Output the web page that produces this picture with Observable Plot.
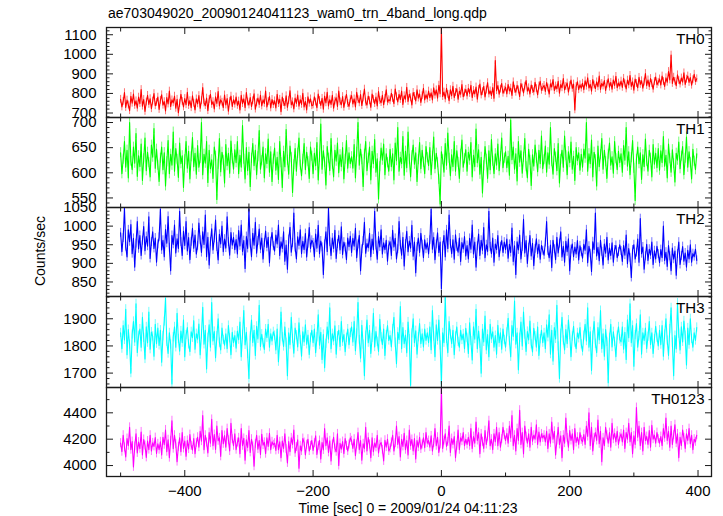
<!DOCTYPE html>
<html><head><meta charset="utf-8">
<script src="https://cdn.jsdelivr.net/npm/d3@7"></script>
<script src="https://cdn.jsdelivr.net/npm/@observablehq/plot@0.6"></script>
<style>
body{margin:0;background:#fff;}
#chart{position:relative;width:723px;height:516px;font-family:"Liberation Sans",Arial,Helvetica,sans-serif;color:#000;overflow:hidden;}
#chart svg{position:absolute;left:0;overflow:visible;}
.title{position:absolute;left:108px;top:5px;font-size:14px;line-height:16px;white-space:nowrap;}
.ylab{position:absolute;left:40px;top:251px;font-size:14px;line-height:16px;transform:translate(-50%,-50%) rotate(-90deg);white-space:nowrap;}
.xlab{position:absolute;left:408px;top:501px;font-size:14px;line-height:14px;transform:translateX(-50%);white-space:nowrap;}
</style></head><body><div id="chart"></div>
<script>
// Light curve, 2-s samples starting at t = -500 s
const tStart = -500, tStep = 2;
const bandNames = ["TH0", "TH1", "TH2", "TH3", "TH0123"];
const bandColors = ["#ff0000", "#00ff00", "#0000ff", "#00ffff", "#ff00ff"];
const bandErrors = [20, 10, 12, 17, 34];

const th0 = [
770,731,759,804,728,766,741,712,785,750,797,739,762,725,781,748,820,735,769,708,756,790,744,773,722,761,799,737,754,781,
718,765,793,740,758,711,779,746,812,733,767,752,786,724,770,701,748,795,759,731,774,742,806,738,763,727,788,750,716,772,
747,789,724,763,830,751,738,776,712,769,795,744,758,721,783,749,810,736,767,755,728,792,741,774,709,760,786,733,768,745,
782,739,761,715,790,748,772,727,805,756,741,779,733,763,798,720,752,776,744,791,736,767,749,812,731,758,784,726,769,743,
762,726,795,748,770,707,781,753,738,788,729,764,814,742,757,721,776,749,792,735,768,744,801,731,759,716,783,750,772,737,
741,783,756,727,797,764,739,775,719,786,752,806,736,768,744,790,725,761,778,733,812,757,742,784,729,766,795,748,734,771,
789,746,772,731,806,768,752,794,738,777,822,755,741,786,763,729,797,770,748,781,736,810,764,753,790,742,775,818,757,768,
762,801,774,748,823,783,757,795,769,812,744,788,771,831,759,796,778,741,805,785,762,819,776,797,754,788,826,767,793,772,
812,779,803,767,829,791,818,776,842,798,1135,784,807,772,826,795,763,819,788,837,779,805,824,770,811,796,845,783,802,821,
787,826,800,842,779,815,798,833,771,821,848,792,809,836,782,818,855,797,813,789,830,775,968,814,840,796,822,851,801,817,
832,798,846,813,827,790,859,821,806,841,818,784,850,828,803,837,866,812,829,797,843,820,808,857,825,793,838,862,816,830,
841,810,856,828,797,849,833,871,815,838,824,862,801,845,829,876,818,836,853,807,840,868,826,848,716,835,860,819,844,827,
852,819,864,837,880,828,846,812,871,843,825,859,834,889,821,851,838,866,815,847,875,832,856,822,869,841,887,829,853,838,
863,831,877,849,823,868,844,892,836,859,817,873,851,829,882,846,865,827,858,902,840,869,835,876,850,822,861,884,845,857,
874,843,889,861,836,880,857,912,869,996,851,883,862,840,895,866,848,879,858,905,846,873,889,856,881,842,870,898,861,875];

const th1 = [
640,598,627,662,611,645,590,700,623,606,651,619,678,593,634,612,657,585,628,669,604,641,620,592,655,631,688,609,647,615,
583,629,651,606,640,574,622,664,598,637,615,681,603,648,627,591,659,618,634,571,626,662,609,643,588,632,670,612,639,597,
654,611,628,700,596,637,619,662,581,645,608,626,589,651,633,547,617,668,602,641,625,580,656,614,639,599,663,628,607,646,
620,662,598,635,611,694,627,588,650,604,641,573,629,658,614,645,596,632,684,607,624,651,590,638,618,667,601,642,583,627,
649,605,631,587,662,620,571,643,612,686,625,597,653,630,561,616,648,603,639,669,615,594,627,658,606,641,622,589,651,633,
598,639,614,660,586,631,697,607,644,621,576,652,629,604,668,617,592,645,623,659,600,636,612,650,588,627,664,609,640,618,
632,609,656,590,641,700,615,647,626,573,637,662,604,629,651,586,643,618,666,601,628,548,612,649,625,657,596,638,620,603,
647,612,638,586,659,624,690,603,631,618,672,595,643,610,681,627,592,634,655,617,640,583,626,660,608,645,621,598,652,630,
614,650,596,633,671,608,639,620,587,538,642,626,601,658,615,679,629,594,636,612,662,603,644,621,589,637,665,611,628,646,
603,641,625,660,592,635,612,687,620,646,597,631,560,614,652,627,589,644,606,666,623,598,638,615,657,604,632,669,610,629,
642,610,633,595,705,626,651,607,638,584,662,621,644,599,631,668,612,590,647,625,575,636,613,655,629,602,645,618,673,608,
626,653,601,640,617,690,622,597,648,631,604,658,580,627,645,611,673,634,596,642,620,661,607,633,585,650,624,640,605,637,
611,647,629,700,603,638,618,665,592,641,626,574,653,612,636,668,607,645,622,589,637,659,615,632,599,662,628,606,643,620,
638,601,654,625,690,613,642,596,630,664,609,545,627,651,618,640,587,636,612,667,623,603,645,629,592,656,617,639,610,648,
605,644,620,672,613,635,590,657,628,601,646,618,582,639,625,661,608,633,652,596,629,671,611,642,620,588,647,623,606,638];

const th2 = [
982,931,968,1048,945,917,990,958,1004,926,967,890,953,1012,939,975,921,961,999,934,972,946,1025,913,957,985,940,968,903,951,
970,1045,936,962,918,991,954,1026,942,880,975,951,1003,928,966,940,1040,957,921,986,948,1012,933,969,910,958,994,941,976,925,
947,1008,962,929,985,951,1030,918,970,896,958,993,936,967,1016,944,909,978,952,1000,931,965,941,1025,957,922,983,949,970,937,
964,925,988,947,1003,932,961,886,972,940,1045,953,918,981,949,1010,927,960,992,938,968,912,955,987,943,970,902,958,983,946,
933,976,952,1003,921,958,940,985,906,949,884,964,997,930,955,1035,942,912,971,948,990,926,959,937,980,917,953,996,940,962,
955,918,979,941,1002,926,960,943,870,951,985,932,1048,957,921,968,940,989,913,952,975,936,998,924,957,943,910,968,945,973,
929,967,946,994,915,951,975,880,938,960,1010,927,953,942,981,918,965,936,1040,948,911,972,944,990,925,955,937,962,906,948,
958,921,989,944,967,912,938,1012,949,922,970,893,952,986,931,960,941,1002,919,957,875,944,968,929,981,950,915,963,938,955,
925,962,1045,938,970,910,951,982,929,957,832,946,975,918,990,940,1030,952,926,963,911,977,944,930,968,905,956,939,972,920,
948,912,967,938,1003,925,957,890,946,979,921,962,935,996,915,950,932,1040,944,926,968,903,952,937,975,918,945,961,929,957,
937,965,914,951,929,995,905,947,870,958,936,976,912,944,1018,928,961,900,942,975,920,954,894,939,966,926,951,911,948,934,
922,956,1012,933,915,949,889,962,938,910,970,928,953,985,917,946,903,959,931,966,880,937,952,918,944,925,961,909,947,930,
914,951,935,990,902,946,926,878,958,937,1035,920,943,907,962,931,896,952,927,970,909,941,921,955,903,936,948,915,930,950,
933,905,948,922,976,899,940,915,862,936,950,912,929,965,903,1020,926,944,884,919,951,908,938,922,957,897,934,912,946,925,
902,937,915,1000,908,930,892,948,919,880,941,911,933,868,925,957,897,920,945,906,928,890,935,912,950,903,926,918,938,908];

const th3 = [
1848,1790,1875,1822,1935,1768,1860,1805,1700,1842,1890,1815,1955,1776,1838,1862,1795,1905,1830,1752,1870,1812,1925,1788,1851,1835,1762,1880,1808,1866,
1802,1858,1740,1836,1890,1975,1815,1772,1848,1805,1660,1832,1870,1795,1920,1826,1781,1855,1812,1895,1760,1840,1868,1806,1779,1852,1830,1893,1788,1845,
1825,1881,1768,1842,1942,1806,1858,1715,1830,1878,1795,1960,1818,1853,1757,1836,1900,1812,1785,1866,1822,1803,1845,1790,1875,1828,1768,1850,1812,1838,
1792,1855,1823,1888,1760,1841,1930,1804,1850,1770,1680,1835,1895,1813,1858,1765,1872,1826,1950,1798,1843,1810,1787,1862,1830,1880,1795,1845,1818,1852,
1838,1785,1862,1742,1815,1925,1832,1798,1870,1812,1690,1848,1805,1905,1826,1773,1866,1840,1796,1885,1822,1762,1852,1815,1878,1806,1840,1769,1830,1858,
1812,1862,1775,1832,1915,1803,1850,1750,1842,1720,1808,1870,1825,1940,1790,1845,1818,1874,1770,1836,1858,1798,1890,1815,1842,1779,1830,1862,1805,1848,
1870,1815,1890,1782,1846,1960,1822,1755,1876,1805,1690,1838,1895,1812,1858,1772,1830,1920,1796,1853,1815,1780,1898,1832,1805,1862,1765,1840,1875,1820,
1838,1796,1862,1905,1812,1735,1850,1823,1945,1790,1868,1808,1840,1775,1888,1825,1655,1846,1900,1812,1856,1770,1832,1882,1808,1845,1796,1862,1820,1848,
1812,1870,1786,1930,1835,1760,1878,1820,1895,1802,1660,1848,1812,1980,1826,1775,1890,1842,1808,1858,1768,1835,1870,1815,1795,1858,1822,1844,1790,1865,
1830,1772,1885,1818,1748,1870,1825,1935,1790,1855,1808,1700,1862,1815,1910,1785,1842,1760,1880,1826,1852,1795,1838,1770,1876,1812,1848,1788,1862,1822,
1795,1850,1902,1818,1760,1875,1835,1965,1806,1848,1712,1830,1888,1800,1925,1842,1780,1853,1822,1892,1806,1778,1865,1836,1795,1870,1765,1825,1858,1812,
1848,1790,1878,1832,1915,1770,1858,1745,1868,1826,1950,1798,1680,1845,1905,1820,1785,1860,1808,1895,1840,1760,1835,1872,1812,1790,1848,1828,1868,1806,
1780,1838,1880,1818,1940,1795,1852,1710,1838,1890,1808,1775,1868,1822,1930,1790,1845,1762,1860,1815,1665,1830,1880,1796,1852,1815,1760,1838,1870,1824,
1815,1870,1788,1850,1750,1896,1830,1955,1812,1875,1725,1840,1882,1795,1836,1915,1770,1848,1820,1866,1790,1834,1890,1805,1848,1772,1825,1872,1830,1800,
1858,1805,1875,1762,1842,1900,1820,1765,1862,1940,1812,1690,1838,1790,1958,1845,1785,1870,1815,1892,1838,1730,1866,1805,1900,1826,1795,1848,1820,1868];

const th0123 = [
4170,4105,4230,4138,4065,4205,4150,4290,4120,4182,3990,4145,4240,4096,4178,4128,4255,4080,4198,4152,4062,4186,4121,4230,4110,4172,4145,4212,4092,4165,
4120,4180,4080,4215,4158,4270,4105,4196,4060,4188,4340,4128,4230,4162,4030,4142,4210,4105,4250,4130,4186,4070,4190,4125,4235,4150,4118,4205,4090,4172,
4215,4140,4260,4185,4380,4120,4230,4175,4095,4250,4170,4350,4150,4235,4122,4300,4188,4210,4070,4265,4165,4228,4140,4280,4192,4110,4320,4200,4150,4240,
4120,4175,4210,4090,4280,4150,4206,4040,4195,4138,4265,4100,4200,4145,3995,4165,4230,4125,4190,4085,4238,4155,4176,4090,4210,4145,4245,4120,4180,4158,
4170,4115,4230,4120,4180,4060,4185,4130,4240,4125,4020,4182,4105,4210,4160,4270,4096,4140,4195,3980,4150,4110,4205,4175,4080,4158,4200,4110,4150,4190,
4115,4170,4225,4085,4150,4190,4050,4175,4118,4280,4150,4210,4100,4188,4035,4160,4215,4130,4105,4240,4000,4168,4125,4182,4090,4205,4150,4110,4160,4210,
4188,4130,4200,4075,4160,4250,4120,4190,4040,4165,4130,4290,4110,4212,4160,4060,4210,4105,4170,4138,4230,4095,4158,4175,4120,4035,4192,4140,4200,4110,
4130,4175,4230,4110,4170,4300,4160,4220,4065,4200,4145,4245,4120,4190,4080,4270,4150,4198,4110,4205,4050,4190,4140,4215,4125,4160,4210,4135,4250,4170,
4190,4140,4225,4110,4170,4280,4150,4215,4100,4160,4590,4130,4190,4240,4145,4180,4300,4100,4205,4160,4220,4060,4150,4270,4120,4210,4185,4250,4150,4200,
4160,4215,4150,4280,4130,4220,4170,4330,4190,4250,4090,4240,4180,4130,4265,4160,4220,4340,4150,4200,4120,4240,4180,4290,4150,4250,4140,4200,4290,4230,
4190,4245,4170,4300,4210,4380,4150,4230,4110,4280,4190,4420,4160,4250,4090,4300,4220,4170,4240,4140,4290,4185,4230,4200,4310,4160,4255,4180,4240,4210,
4230,4180,4260,4130,4240,4170,4330,4200,4260,4080,4190,4290,4160,4225,4060,4230,4170,4360,4210,4140,4265,4190,4240,4120,4280,4175,4215,4160,4250,4195,
4180,4235,4160,4300,4220,4400,4150,4290,4110,4210,4250,4190,4345,4165,4260,4030,4210,4150,4290,4230,4170,4250,4140,4320,4200,4245,4180,4260,4160,4215,
4240,4180,4270,4130,4250,4200,4320,4180,4250,4090,4225,4160,4440,4215,4300,4150,4250,4110,4290,4190,4220,4160,4265,4140,4305,4200,4230,4170,4250,4200,
4170,4220,4150,4280,4210,4360,4190,4260,4140,4300,4160,4230,4310,4170,4240,4060,4215,4150,4270,4210,4130,4240,4190,4280,4165,4230,4120,4200,4180,4230];

const bandValues = [th0, th1, th2, th3, th0123];

// Axis ticks
const xMajorTicks = [-400, -200, 0, 200, 400];
const xMinorTicks = [-500, -300, -100, 100, 300];
const yMajorTicks = [
  [700, 800, 900, 1000, 1100],
  [550, 600, 650, 700],
  [850, 900, 950, 1000, 1050],
  [1700, 1800, 1900],
  [4000, 4200, 4400]
];
const yMinorSteps = [20, 10, 10, 20, 100];
const yDomains = [[677, 1137], [531, 710], [811, 1050], [1647, 1982], [3917, 4592]];
const xDomain = [-522, 421];

const titleText = "ae703049020_20090124041123_wam0_trn_4band_long.qdp";
const yTitle = "Counts/sec";
const xTitle = "Time [sec] 0 = 2009/01/24 04:11:23";

// layout
const frameTops = [27, 117, 207, 296, 387];
const frameBottom = 476;

const chart = document.getElementById("chart");
const frameColor = "#1a1a1a";

bandNames.forEach((name, i) => {
  const data = bandValues[i].map((v, k) => ({t: tStart + k * tStep, v}));
  const err = bandErrors[i];
  const color = bandColors[i];
  const [d0, d1] = yDomains[i];
  const step = yMinorSteps[i];
  const minors = d3.range(Math.ceil(d0 / step) * step, d1, step).filter(v => !yMajorTicks[i].includes(v));
  const top = frameTops[i];
  const bottom = i < 4 ? frameTops[i + 1] : frameBottom;
  const mt = 12, mb = i === 4 ? 40 : 12;
  const last = i === 4;
  const blank = () => "";
  const svg = Plot.plot({
    width: 723,
    height: bottom - top + mt + mb,
    marginLeft: 106, marginRight: 12, marginTop: mt, marginBottom: mb,
    x: {domain: xDomain},
    y: {domain: yDomains[i]},
    style: {background: "transparent", overflow: "visible", fontFamily: "'Liberation Sans', Arial, sans-serif", fontSize: "14px", color: frameColor},
    marks: [
      Plot.ruleX(data, {x: "t", y1: d => d.v - err, y2: d => d.v + err, stroke: color, strokeOpacity: 0.55, strokeWidth: 1, clip: true}),
      Plot.line(data, {x: "t", y: "v", stroke: color, strokeWidth: 1.1, clip: true}),
      Plot.frame({stroke: frameColor, strokeWidth: 1.3}),
      Plot.axisY({anchor: "left", ticks: yMajorTicks[i], tickSize: -7, tickPadding: 17, tickFormat: d => String(d), label: null, fontSize: 15, fill: "#000"}),
      Plot.axisY({anchor: "left", ticks: minors, tickSize: -3.5, tickFormat: blank, label: null}),
      Plot.axisY({anchor: "right", ticks: yMajorTicks[i], tickSize: -7, tickFormat: blank, label: null}),
      Plot.axisY({anchor: "right", ticks: minors, tickSize: -3.5, tickFormat: blank, label: null}),
      Plot.axisX({anchor: "top", ticks: xMajorTicks, tickSize: -6, tickFormat: blank, label: null}),
      Plot.axisX({anchor: "top", ticks: xMinorTicks, tickSize: -3.5, tickFormat: blank, label: null}),
      last
        ? Plot.axisX({anchor: "bottom", ticks: xMajorTicks, tickSize: -6, tickPadding: 15, label: null, fontSize: 15, fill: "#000"})
        : Plot.axisX({anchor: "bottom", ticks: xMajorTicks, tickSize: -6, tickFormat: blank, label: null}),
      Plot.axisX({anchor: "bottom", ticks: xMinorTicks, tickSize: -3.5, tickFormat: blank, label: null}),
      Plot.text([name], {frameAnchor: "top-right", text: d => d, dx: -7, dy: 16, lineAnchor: "bottom", fontSize: 15, fill: "#000"})
    ]
  });
  svg.style.top = (top - mt) + "px";
  chart.appendChild(svg);
});

const t = document.createElement("div"); t.className = "title"; t.textContent = titleText; chart.appendChild(t);
const yl = document.createElement("div"); yl.className = "ylab"; yl.textContent = yTitle; chart.appendChild(yl);
const xl = document.createElement("div"); xl.className = "xlab"; xl.textContent = xTitle; chart.appendChild(xl);
</script></body></html>
